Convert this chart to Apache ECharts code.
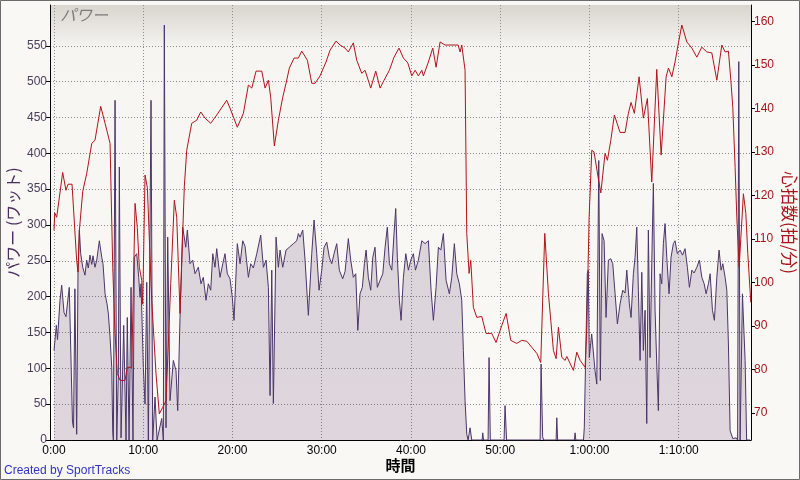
<!DOCTYPE html>
<html>
<head>
<meta charset="utf-8">
<script src="https://cdn.jsdelivr.net/npm/echarts@6/dist/echarts.min.js"></script>
<style>
html,body{margin:0;padding:0;background:#f9f8f4;}
#chart{width:800px;height:480px;}
</style>
</head>
<body>
<div id="chart"></div>
<script>
// Time in minutes
var powerTime = [0,0.26,0.39,0.67,0.86,1.12,1.34,1.49,1.71,1.91,2.07,2.19,2.34,2.54,2.69,2.84,2.99,3.22,3.47,3.66,3.84,4.03,4.23,4.37,4.59,4.79,5.08,5.35,5.49,5.72,5.94,6.09,6.28,6.47,6.58,6.65,6.84,7.03,7.21,7.32,7.51,7.81,8.07,8.21,8.41,8.63,8.85,9.00,9.27,9.49,9.64,9.75,10.01,10.20,10.39,10.57,10.87,11.06,11.32,11.55,12.07,12.25,12.36,12.55,12.74,13.00,13.37,13.67,13.86,14.12,14.42,14.76,14.94,15.24,15.54,15.80,16.17,16.47,16.73,17.03,17.29,17.56,17.79,18.04,18.23,18.60,18.91,19.16,19.42,19.72,19.98,20.17,20.54,20.85,21.15,21.41,21.78,22.04,22.34,22.72,23.16,23.46,23.76,24.02,24.21,24.40,24.58,24.88,25.14,25.33,25.63,26.00,26.37,26.82,27.20,27.38,27.57,27.87,28.13,28.50,28.88,29.14,29.44,29.70,30.00,30.26,30.56,30.85,31.12,31.38,31.68,31.97,32.35,32.61,32.98,33.25,33.54,33.81,34.04,34.29,34.55,34.78,34.97,35.22,35.49,35.72,35.97,36.23,36.54,36.84,37.10,37.35,37.58,37.85,38.10,38.29,38.47,38.70,38.89,39.15,39.42,39.71,39.98,40.27,40.50,40.83,41.21,41.58,41.95,42.25,42.51,42.81,43.07,43.34,43.63,43.93,44.30,44.57,44.86,45.13,45.42,45.69,45.87,46.06,46.25,46.40,46.62,46.81,47.97,48.04,48.13,48.64,48.75,48.89,50.43,50.54,50.71,54.47,54.58,54.75,54.86,56.26,56.34,56.43,58.31,58.39,58.47,59.33,59.42,59.56,59.76,59.87,59.98,60.25,60.40,60.62,60.82,61.04,61.22,61.41,61.64,61.86,62.12,62.39,62.61,62.87,63.13,63.43,63.73,63.99,64.18,64.47,64.66,64.92,65.11,65.30,65.48,65.67,65.86,66.04,66.23,66.42,66.60,66.79,66.98,67.16,67.35,67.54,67.72,67.91,68.10,68.28,68.47,68.66,68.92,69.14,69.40,69.59,69.85,70.15,70.43,70.71,70.97,71.20,71.47,71.72,72.03,72.32,72.59,72.85,73.07,73.33,73.52,73.78,74.00,74.27,74.52,74.75,74.94,75.20,75.39,75.57,75.76,76.06,76.43,76.60,76.73,76.88,77.14,77.44,77.61,78.00];
// Power in watts
var powerWatts = [125,160,140,195,216,178,172,174,213,212,25,17,211,8,237,293,260,241,230,251,240,258,245,257,241,251,278,255,246,204,190,176,143,101,10,0,474,0,93,381,3,160,0,171,0,213,0,255,260,227,199,218,101,50,220,0,474,0,60,0,30,0,579,17,283,55,111,97,41,171,297,269,293,246,251,232,241,218,227,195,218,209,260,241,267,227,246,260,232,225,199,167,274,246,278,270,227,246,240,260,286,241,251,213,62,237,51,283,241,265,241,265,269,274,278,288,283,293,251,174,260,307,260,209,237,269,276,255,246,260,274,237,225,235,281,251,227,232,153,204,213,246,265,227,209,255,269,213,223,232,269,297,246,237,288,323,255,195,167,227,260,237,251,260,237,251,278,274,278,209,167,213,269,265,288,223,204,227,274,232,218,195,125,55,8,0,17,0,0,10,0,0,115,0,0,48,0,0,106,5,0,0,31,0,0,10,0,0,17,106,232,237,115,148,148,97,78,390,83,288,278,171,251,253,246,204,162,190,209,205,237,190,171,232,255,297,209,111,234,125,181,23,293,115,246,358,181,106,41,232,218,274,302,255,204,255,274,278,260,265,258,267,241,213,237,233,241,251,227,218,204,218,232,181,167,227,265,237,246,227,209,134,13,2,3,0,528,0,204,111,0,0];
// Heart rate time (minutes) and bpm
var hrTime = [0,0.08,0.30,0.97,1.34,1.57,2.02,2.54,2.69,2.84,3.22,3.66,4.23,4.59,5.23,5.72,6.28,6.58,6.84,7.09,7.40,7.96,8.21,8.71,9.08,9.33,9.56,9.83,9.94,10.20,10.46,10.95,11.43,11.80,12.18,12.55,13.08,13.48,13.75,14.12,14.42,14.60,14.87,15.43,15.99,16.44,16.92,17.56,18.23,19.35,19.72,20.54,21.22,21.78,22.16,22.64,23.28,23.65,24.02,24.28,24.69,25.14,25.63,26.00,26.37,26.90,27.38,27.76,28.39,28.88,29.25,29.81,30.48,30.93,31.60,32.05,32.61,32.98,33.54,33.92,34.48,34.85,35.49,36.05,36.54,36.98,37.58,38.10,38.66,39.15,39.64,40.09,40.46,40.83,41.21,41.39,41.95,42.44,42.81,43.26,43.82,45.28,45.50,45.69,46.06,46.25,46.51,46.70,46.99,47.37,47.93,48.41,49.05,49.53,50.17,50.66,51.18,51.85,52.41,52.98,53.54,54.10,54.54,54.99,55.40,55.96,56.26,56.52,56.90,57.27,57.46,58.20,58.58,58.95,59.51,59.70,59.96,60.26,60.51,61.00,61.27,61.75,62.01,62.39,62.79,63.43,63.99,64.36,64.66,65.03,65.56,66.04,66.49,66.98,67.54,68.03,68.59,68.85,69.23,69.59,69.97,70.35,70.91,71.47,72.03,72.59,73.15,73.71,74.27,74.83,75.20,75.57,75.84,76.06,76.32,76.51,76.77,76.96,77.25,77.52,77.74,78.08];
var hrBpm = [112,116,115,125.3,121.2,122.6,122.6,105,102.4,112,121,125,132,132.7,140.5,136.6,132,103.5,88.3,79.1,77.5,77.5,80.5,80.5,118.2,112.7,103.5,100.5,95,124.7,121.8,95.8,79,69.8,71.3,72.8,99.8,118.9,115,92.9,111.3,122,130.4,136.6,137.3,139.2,137.8,136.6,138.5,141.9,140.1,135.7,138.9,145.4,144.7,148.6,148.6,144.7,146.5,142.6,131.4,137.3,142.6,145.8,149.3,151.6,151.6,153.2,151.1,145.8,145.8,147.5,150.7,153.4,155.5,154.6,153.9,153,155.1,151.1,148.1,148.8,144.7,148.6,144.7,146.5,148.8,151.8,153.9,151.6,150.5,147.5,148.8,147.5,148.8,147.5,150.7,153.9,149.5,155.3,154.6,154.6,153,154.6,148.8,111.3,102.1,105.1,94.3,92,92.2,88.3,88.3,86.2,90.1,92.9,86.7,86,86.7,86.5,85.1,83.7,81.6,111.3,97.5,84.4,82.5,89.7,82.8,82.1,83,79.8,84,82.1,80.5,89.7,115,130.4,130,123.8,120.6,129.7,128.1,132.7,138.5,134.5,134.5,138.9,141.4,138.9,147.3,137.8,142.3,123.1,149,129.3,147.3,149.3,147.3,150.7,155.1,159.2,155.3,153.9,151.8,154.1,153,152.8,146.5,154.6,153,153.2,146.5,140.3,126.5,115,103.5,103.5,120.4,115.9,106.7,95.4];
var timeTicks = [0,10,20,30,40,50,60,70];
var powerTicks = [0,50,100,150,200,250,300,350,400,450,500,550];
var hrTicks = [70,80,90,100,110,120,130,140,150,160];

function pairs(a, b){ var r=[]; for (var i=0;i<a.length;i++) r.push([a[i], b[i]]); return r; }
function fmtTime(v){
  v = Math.round(v);
  if (v < 60) return v + ':00';
  var m = v % 60;
  return Math.floor(v/60) + ':' + (m < 10 ? '0' + m : m) + ':00';
}
var numFont = 'Liberation Sans Narrow, Liberation Sans, Arial, sans-serif';
var jpFont = 'Noto Sans CJK JP, sans-serif';
var gridColors = [];
for (var i=0;i<12;i++) gridColors.push('#8c8c8c');
gridColors.push('rgba(0,0,0,0)'); gridColors.push('rgba(0,0,0,0)');

var chart = echarts.init(document.getElementById('chart'), null, {renderer:'canvas'});
chart.setOption({
  backgroundColor: '#f9f8f4',
  animation: false,
  title: {
    text: 'パワー', left: 55, top: 2,
    textStyle: {fontFamily: jpFont, fontStyle: 'italic', fontWeight: 'normal', fontSize: 16, color: '#7c7c7c'}
  },
  grid: {
    left: 50, right: 49, top: 5, bottom: 40, show: true, borderWidth: 0,
    outerBoundsMode: 'none', containLabel: false,
    backgroundColor: new echarts.graphic.LinearGradient(0,0,0,1,[
      {offset:0, color:'#d9d5cf'},{offset:0.1, color:'#f6f5f1'},{offset:1, color:'#faf9f5'}
    ])
  },
  xAxis: {
    type: 'value', min: -0.45, max: 78.1,
    name: '時間', nameLocation: 'middle', nameGap: 18, nameMoveOverlap: false,
    nameTextStyle: {fontFamily: jpFont, fontWeight: 'bold', fontSize: 15, color: '#000'},
    axisLine: {show: true, lineStyle: {color: '#000', width: 1}},
    axisTick: {show: false, customValues: timeTicks},
    axisLabel: {customValues: timeTicks, formatter: fmtTime, color: '#000', fontFamily: numFont, fontSize: 12, margin: 5},
    splitLine: {show: true, lineStyle: {color: '#8c8c8c', type: [1,2], width: 1}}
  },
  yAxis: [{
    type: 'value', min: 0, max: 607, position: 'left',
    name: 'パワー (ワット)', nameLocation: 'middle', nameGap: 29, nameRotate: 90, nameMoveOverlap: false,
    nameTextStyle: {fontFamily: jpFont, fontSize: 16, color: '#4a2f5e'},
    axisLine: {show: true, onZero: false, lineStyle: {color: '#000', width: 1}},
    axisTick: {show: true, inside: false, length: 4, customValues: powerTicks, lineStyle: {color: '#000'}},
    axisLabel: {customValues: powerTicks, color: '#4a3d5c', fontFamily: numFont, fontSize: 12, margin: 3},
    splitLine: {show: true, lineStyle: {color: gridColors, type: [1,2], width: 1}}
  },{
    type: 'value', min: 63.8, max: 163.8, position: 'right',
    name: '心拍数(拍/分)', nameLocation: 'middle', nameGap: 30, nameRotate: -90, nameMoveOverlap: false,
    nameTextStyle: {fontFamily: jpFont, fontSize: 17, color: '#a8141c'},
    axisLine: {show: true, onZero: false, lineStyle: {color: '#000', width: 1}},
    axisTick: {show: true, inside: false, length: 4, customValues: hrTicks, lineStyle: {color: '#000'}},
    axisLabel: {customValues: hrTicks, color: '#a8141c', fontFamily: numFont, fontSize: 12, margin: 3},
    splitLine: {show: false}
  }],
  series: [{
    name: 'パワー', type: 'line', yAxisIndex: 0, showSymbol: false, symbol: 'none',
    data: pairs(powerTime, powerWatts),
    lineStyle: {color: '#4b3568', width: 1},
    areaStyle: {color: 'rgba(82,40,100,0.24)', origin: 'start'}
  },{
    name: '心拍数', type: 'line', yAxisIndex: 1, showSymbol: false, symbol: 'none',
    data: pairs(hrTime, hrBpm),
    lineStyle: {color: '#b3121c', width: 1}
  }],
  graphic: [{
    type: 'text', left: 4, top: 465,
    style: {text: 'Created by SportTracks', fill: '#3232c8', font: '12px Liberation Sans, Arial, sans-serif'}
  },{
    type: 'rect', shape: {x: 0.5, y: 0.5, width: 799, height: 479},
    style: {fill: 'none', stroke: '#6a6a6a', lineWidth: 1}, silent: true
  }]
});
</script>
</body>
</html>
